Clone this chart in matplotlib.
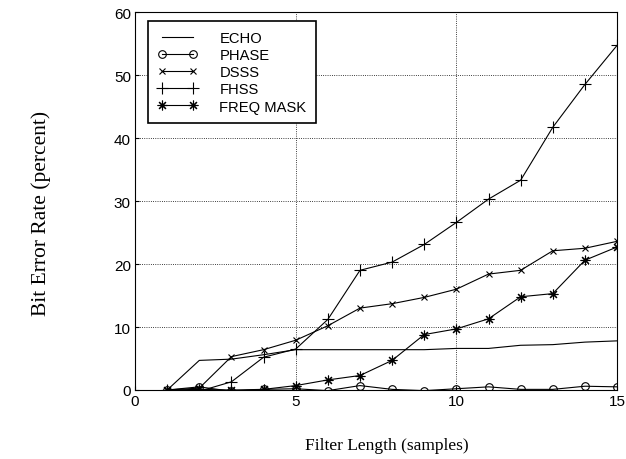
import matplotlib
matplotlib.use('Agg')
import matplotlib.pyplot as plt
import numpy as np

filter_length = np.arange(1, 16)

echo = [0, 4.7, 4.9, 5.6, 6.4, 6.4, 6.4, 6.4, 6.4, 6.6, 6.6, 7.1, 7.2, 7.6, 7.8]
phase = [0, 0.5, -0.2, 0.1, 0.2, -0.1, 0.7, 0.1, -0.1, 0.2, 0.5, 0.1, 0.1, 0.6, 0.5]
dsss = [0, 0.3, 5.3, 6.4, 7.9, 10.2, 13.0, 13.7, 14.7, 16.0, 18.4, 19.0, 22.1, 22.5, 23.6]
fhss = [0, -0.2, 1.3, 5.2, 6.5, 11.2, 19.0, 20.3, 23.1, 26.6, 30.3, 33.3, 41.7, 48.5, 54.7]
freq_mask = [0, 0.1, 0.0, 0.1, 0.7, 1.6, 2.3, 4.7, 8.8, 9.7, 11.3, 14.8, 15.3, 20.6, 22.7]

# name, values, marker, marker size
series = [
    ('ECHO', echo, '', 0),
    ('PHASE', phase, 'o', 5.5),
    ('DSSS', dsss, 'x', 4.5),
    ('FHSS', fhss, '+', 8),
    ('FREQ MASK', freq_mask, (8, 2, 0), 7),
]

fig = plt.figure(figsize=(6.26, 4.6), dpi=100)
ax = fig.add_axes([0.2157, 0.15, 0.77, 0.8217])

for name, values, marker, size in series:
    ax.plot(filter_length, values, color='black', linewidth=0.8, marker=marker,
            markersize=size, markerfacecolor='none', markeredgewidth=0.8, label=name)

ax.set_xlim(0, 15)
ax.set_ylim(0, 60)
ax.set_xticks([0, 5, 10, 15])
ax.set_yticks(range(0, 61, 10))
ax.grid(True, linestyle=':', color='black', linewidth=0.6)
ax.tick_params(direction='in', labelsize=11, length=3, pad=3)
for lbl in ax.get_xticklabels() + ax.get_yticklabels():
    lbl.set_family('Liberation Sans')
for s in ax.spines.values():
    s.set_linewidth(0.8)

ax.set_xlabel('Filter Length (samples)', family='Liberation Serif', fontsize=12.5)
ax.set_ylabel('Bit Error Rate (percent)', family='Liberation Serif', fontsize=15.5)
ax.xaxis.set_label_coords(0.522, -0.125)
ax.yaxis.set_label_coords(-0.174, 0.47)

leg = ax.legend(loc='upper left', bbox_to_anchor=(0.027, 0.976), borderaxespad=0,
                fancybox=False, edgecolor='black', framealpha=1,
                prop={'family': 'Liberation Sans', 'size': 10.6}, numpoints=2,
                handlelength=2.7, labelspacing=0.22, handletextpad=1.5,
                borderpad=0.65)
leg.get_frame().set_linewidth(1.2)

fig.savefig('out.png', dpi=100)
